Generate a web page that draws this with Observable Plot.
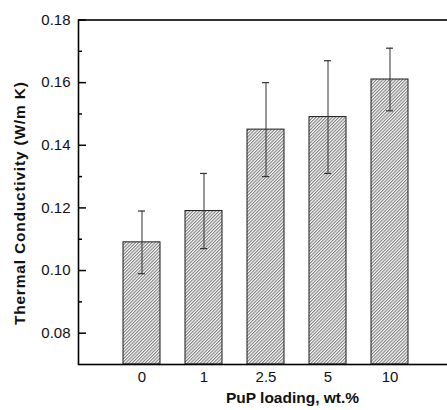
<!DOCTYPE html>
<html>
<head>
<meta charset="utf-8">
<script src="https://cdn.jsdelivr.net/npm/d3@7"></script>
<script src="https://cdn.jsdelivr.net/npm/@observablehq/plot@0.6"></script>
<style>
  html, body { margin: 0; padding: 0; background: #fff; overflow: hidden; width: 447px; height: 410px; }
  #chart { width: 447px; height: 410px; overflow: hidden; }
  #chart svg { display: block; max-width: none !important; }
</style>
</head>
<body>
<div id="chart"></div>
<script>
const categories = ["0", "1", "2.5", "5", "10"];
const values = [0.109, 0.119, 0.145, 0.149, 0.161];
const errors = [0.010, 0.012, 0.015, 0.018, 0.010];
const yTicks = [0.08, 0.10, 0.12, 0.14, 0.16, 0.18];
const yMinorTicks = [0.09, 0.11, 0.13, 0.15, 0.17];
const yDomain = [0.07, 0.18];
const xTitle = "PuP loading, wt.%";
const yTitle = "Thermal Conductivity (W/m K)";

const data = categories.map((c, i) => ({cat: c, v: values[i], lo: values[i] - errors[i], hi: values[i] + errors[i]}));

const W = 520, H = 410, ML = 78, MR = 14, MT = 19.5, MB = 46;
const frameW = W - ML - MR;

const svg = Plot.plot({
  width: W,
  height: H,
  marginLeft: ML,
  marginRight: MR,
  marginTop: MT,
  marginBottom: MB,
  style: {fontFamily: "'Liberation Sans', Arial, sans-serif", fontSize: "15px", color: "#111", background: "#fff", maxWidth: "none"},
  x: {type: "band", domain: categories, padding: 0.4, range: [96, 436]},
  y: {domain: yDomain},
  marks: [
    Plot.barY(data, {x: "cat", y1: yDomain[0], y2: "v", fill: "url(#hatch)", stroke: "#1a1a1a", strokeWidth: 1}),
    Plot.ruleX(data, {x: "cat", y1: "lo", y2: "hi", stroke: "#333", strokeWidth: 1}),
    Plot.tickY(data, {x: "cat", y: "hi", stroke: "#333", strokeWidth: 1.2, insetLeft: 15, insetRight: 15}),
    Plot.tickY(data, {x: "cat", y: "lo", stroke: "#333", strokeWidth: 1.2, insetLeft: 15, insetRight: 15}),
    Plot.ruleY(yTicks, {y: d => d, insetRight: frameW - 8, stroke: "#000", strokeWidth: 1.5}),
    Plot.ruleY(yMinorTicks, {y: d => d, insetRight: frameW - 4, stroke: "#000", strokeWidth: 1.5}),
    Plot.frame({stroke: "#000", strokeWidth: 1.6}),
    Plot.axisY({ticks: yTicks, tickFormat: d3.format(".2f"), tickSize: 0, tickPadding: 8, label: null, fontSize: 15}),
    Plot.axisX({tickSize: 0, tickPadding: 7, label: null, fontSize: 15}),
    Plot.text([xTitle], {text: d => d, frameAnchor: "bottom", dy: 38, fontWeight: "bold", fontSize: 15.5}),
    Plot.text([yTitle], {text: d => d, frameAnchor: "left", textAnchor: "middle", rotate: -90, dx: -58, dy: 11, fontWeight: "bold", fontSize: 15.5})
  ]
});
svg.style.maxWidth = "none";
svg.querySelectorAll("text").forEach(t => {
  if (t.textContent === yTitle) t.style.letterSpacing = "0.8px";
});

const defs = document.createElementNS("http://www.w3.org/2000/svg", "defs");
defs.innerHTML = `<pattern id="hatch" patternUnits="userSpaceOnUse" width="2.3" height="10" patternTransform="rotate(45)">
  <rect width="2.3" height="10" fill="#fff"/>
  <line x1="0.6" y1="0" x2="0.6" y2="10" stroke="#555" stroke-width="0.85"/>
</pattern>`;
svg.insertBefore(defs, svg.firstChild);
document.getElementById("chart").appendChild(svg);
</script>
</body>
</html>
